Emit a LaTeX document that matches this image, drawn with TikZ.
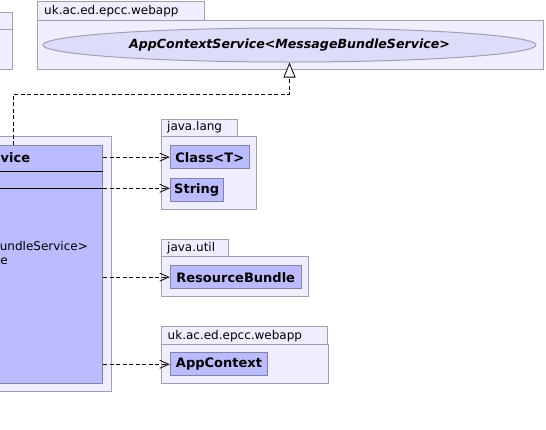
\documentclass[tikz,border=0pt]{standalone}
\usepackage{fontspec}
\setmainfont{DejaVu Sans}
\usetikzlibrary{arrows.meta,shapes.geometric,calc}
\definecolor{pkgfill}{RGB}{238,238,255}
\definecolor{pkgline}{RGB}{160,160,180}
\definecolor{clsfill}{RGB}{187,187,255}
\definecolor{clsline}{RGB}{130,130,170}
\definecolor{ellfill}{RGB}{221,221,250}
\newcommand{\txtsize}{\fontsize{12}{14}\selectfont}
\newcommand{\boldsize}{\fontsize{13}{15}\selectfont}
\newcommand{\ellsize}{\fontsize{12.6}{15}\selectfont}
\newcommand{\lw}{1pt}

\begin{document}
\begin{tikzpicture}[x=1pt,y=-1pt,
  pkg/.style={fill=pkgfill,draw=pkgline,line width=\lw},
  cls/.style={fill=clsfill,draw=clsline,line width=\lw,inner sep=0,anchor=north west,font=\boldsize\bfseries},
  pkgname/.style={anchor=west,inner sep=0,font=\txtsize},
  dep/.style={dash pattern=on 4pt off 2.5pt,line width=0.8pt,-{Straight Barb[length=9pt,width=8pt]}},
  gen/.style={dash pattern=on 4pt off 2.5pt,line width=0.8pt,-{Triangle[open,fill=white,length=15pt,width=12pt]}}]
\useasboundingbox (0,0) rectangle (546,429);
% package on the left, cut off
\filldraw[pkg] (-5,12) rectangle (12.5,69);
\draw[pkgline,line width=\lw] (-5,29) -- (12.5,29);
% uk.ac.ed.epcc.webapp (top)
\filldraw[pkg] (37.3,1) rectangle (204,20.7);
\filldraw[pkg] (37.3,20.7) rectangle (543,69.3);
\node[pkgname] (webtop) at (44,11) {uk.ac.ed.epcc.webapp};
\node[ellipse,fill=ellfill,draw=pkgline,line width=\lw,inner sep=0,minimum width=493,minimum height=34,font=\ellsize\bfseries\itshape] (acs) at (289.5,45) {AppContextService<MessageBundleService>};
% package of the service class
\filldraw[pkg] (-5,136) rectangle (111,391);
\node[cls,anchor=north east,minimum width=110,minimum height=238.3] (svc) at (103.3,145) {};
\draw[black,line width=\lw] (svc.west |- 0,171.7) -- (svc.east |- 0,171.7);
\draw[black,line width=\lw] (svc.west |- 0,188.3) -- (svc.east |- 0,188.3);
\node[anchor=west,inner sep=0,font=\boldsize\bfseries] (svcname) at (0.5,158) {vice};
\node[anchor=east,inner sep=0,font=\txtsize] (svcattr) at (88,245.7) {undleService>};
\node[anchor=west,inner sep=0,font=\txtsize] (svcop) at (0.3,261.7) {e};
% java.lang
\filldraw[pkg] (161,119.3) rectangle (237.3,136);
\filldraw[pkg] (161,136) rectangle (256.7,209.3);
\node[pkgname] (lang) at (167,127.6) {java.lang};
\node[cls,minimum width=79,minimum height=23.3] (classT) at (169.7,145) {Class<T>};
\node[cls,minimum width=53,minimum height=23] (string) at (169.7,178.3) {String};
% java.util
\filldraw[pkg] (161,239.3) rectangle (228.7,256.7);
\filldraw[pkg] (161,256.7) rectangle (308.3,296);
\node[pkgname] (util) at (167,248) {java.util};
\node[cls,minimum width=131,minimum height=23.3] (rb) at (169.7,265) {ResourceBundle};
% uk.ac.ed.epcc.webapp (bottom)
\filldraw[pkg] (161.7,326.7) rectangle (327.3,344.7);
\filldraw[pkg] (161.7,344.7) rectangle (328.3,383.3);
\node[pkgname] (webbot) at (167.5,335.7) {uk.ac.ed.epcc.webapp};
\node[cls,minimum width=97.6,minimum height=23] (ctx) at (169.7,352.3) {AppContext};
% dependencies
\draw[dep] (classT -| svc.east) -- (classT);
\draw[dep] (svc.east |- 0,188.3) -- (string.west |- 0,188.3);
\draw[dep] (rb -| svc.east) -- (rb);
\draw[dep] (ctx -| svc.east) -- (ctx);
% realisation
\coordinate (gstart) at ($(svc.north west)+(21,0)$);
\draw[gen] (gstart) -- ++(0,-51) -| (acs.south);
\end{tikzpicture}
\end{document}
